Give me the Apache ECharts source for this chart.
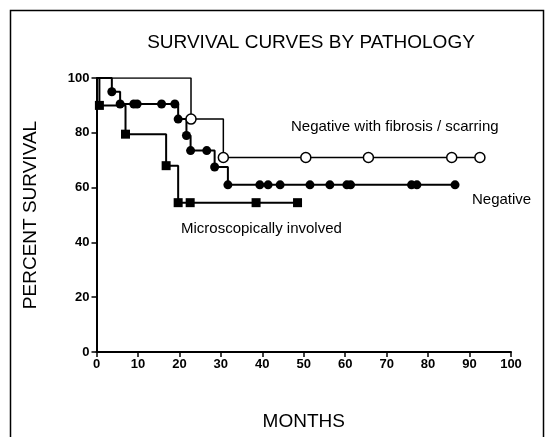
<!DOCTYPE html>
<html>
<head>
<meta charset="utf-8">
<script src="https://cdn.jsdelivr.net/npm/echarts@6/dist/echarts.min.js"></script>
<style>
html, body { margin: 0; padding: 0; background: #fff; }
#main { width: 546px; height: 437px; }
</style>
</head>
<body>
<div id="main"></div>
<script>
// 生存曲线数据（按病理分组）
var xTicks = [0, 10, 20, 30, 40, 50, 60, 70, 80, 90, 100];
var yTicks = [0, 20, 40, 60, 80, 100];

var fibMonths = [0, 22.8, 30.6, 50.5, 65.6, 85.7, 92.5];
var fibSurv = [100, 85, 71, 71, 71, 71, 71];

var negMonths = [0, 3.7, 5.7, 9, 9.8, 15.7, 18.9, 19.7, 21.7, 22.7, 26.6, 28.5, 31.7, 39.4, 41.4, 44.3, 51.5, 56.3, 60.4, 61.3, 76, 77.3, 86.5];
var negSurv = [100, 95, 90.5, 90.5, 90.5, 90.5, 90.5, 85, 79, 73.5, 73.5, 67.5, 61, 61, 61, 61, 61, 61, 61, 61, 61, 61, 61];

var micMonths = [0, 0.7, 7, 16.8, 19.7, 22.6, 38.5, 48.5];
var micSurv = [100, 90, 79.5, 68, 54.5, 54.5, 54.5, 54.5];

var FONT = '"Liberation Sans", Arial, sans-serif';

function toPairs(xs, ys){
	var out = [];
	for (var i = 0; i < xs.length; i++) {
		var item = { value: [xs[i], ys[i]] };
		if (i == 0) {
			item.symbol = 'none';//起点不画标记
		}
		out.push(item);
	}
	return out;
}

var myChart = echarts.init(document.getElementById('main'));
var option = {
	animation: false,
	backgroundColor: '#fff',
	title: {
		text: 'SURVIVAL CURVES BY PATHOLOGY',
		left: 306,
		top: 28,
		textAlign: 'center',
		textStyle: { fontFamily: FONT, fontSize: 19, fontWeight: 'normal', color: '#000' }
	},
	grid: { left: 96.5, right: 35, top: 78, bottom: 85 },
	xAxis: {
		type: 'value',
		min: 0,
		max: 100,
		interval: 10,
		name: 'MONTHS',
		nameLocation: 'middle',
		nameGap: 60,
		nameTextStyle: { fontFamily: FONT, fontSize: 19, color: '#000' },
		axisLine: { show: true, onZero: false, lineStyle: { color: '#000', width: 2 } },
		axisTick: { show: true, length: 5, lineStyle: { color: '#000', width: 1.5 } },
		axisLabel: { fontFamily: FONT, fontSize: 13, fontWeight: 'bold', color: '#000', margin: 6,
			formatter: function(v){ return xTicks.indexOf(v) >= 0 ? String(v) : ''; } },
		splitLine: { show: false }
	},
	yAxis: {
		type: 'value',
		min: 0,
		max: 100,
		interval: 20,
		name: 'PERCENT SURVIVAL',
		nameLocation: 'middle',
		nameGap: 56,
		nameTextStyle: { fontFamily: FONT, fontSize: 19, color: '#000' },
		axisLine: { show: true, lineStyle: { color: '#000', width: 2 } },
		axisTick: { show: true, length: 5, lineStyle: { color: '#000', width: 1.5 } },
		axisLabel: { fontFamily: FONT, fontSize: 13, fontWeight: 'bold', color: '#000', margin: 7,
			formatter: function(v){ return yTicks.indexOf(v) >= 0 ? String(v) : ''; } },
		splitLine: { show: false }
	},
	graphic: [
		{ type: 'rect', shape: { x: 10.5, y: 10.5, width: 533, height: 440 },
		  style: { fill: 'none', stroke: '#000', lineWidth: 1.5 }, silent: true },
		{ type: 'text', left: 291, top: 119,
		  style: { text: 'Negative with fibrosis / scarring', font: '15px ' + FONT, fill: '#000' } },
		{ type: 'text', left: 472, top: 192,
		  style: { text: 'Negative', font: '15px ' + FONT, fill: '#000' } },
		{ type: 'text', left: 181, top: 221,
		  style: { text: 'Microscopically involved', font: '15px ' + FONT, fill: '#000' } }
	],
	series: [{
		name: 'Microscopically involved',
		type: 'line',
		step: 'end',
		data: toPairs(micMonths, micSurv),
		symbol: 'rect',
		symbolSize: 9,
		showAllSymbol: true,
		lineStyle: { color: '#000', width: 2 },
		itemStyle: { color: '#000' }
	}, {
		name: 'Negative',
		type: 'line',
		step: 'end',
		data: toPairs(negMonths, negSurv),
		symbol: 'circle',
		symbolSize: 9,
		showAllSymbol: true,
		lineStyle: { color: '#000', width: 2 },
		itemStyle: { color: '#000' }
	}, {
		name: 'Negative with fibrosis / scarring',
		type: 'line',
		step: 'end',
		data: toPairs(fibMonths, fibSurv),
		symbol: 'circle',
		symbolSize: 10,
		showAllSymbol: true,
		lineStyle: { color: '#000', width: 1.5 },
		itemStyle: { color: '#fff', borderColor: '#000', borderWidth: 1.5 },
		z: 3
	}]
};
myChart.setOption(option);
</script>
</body>
</html>
